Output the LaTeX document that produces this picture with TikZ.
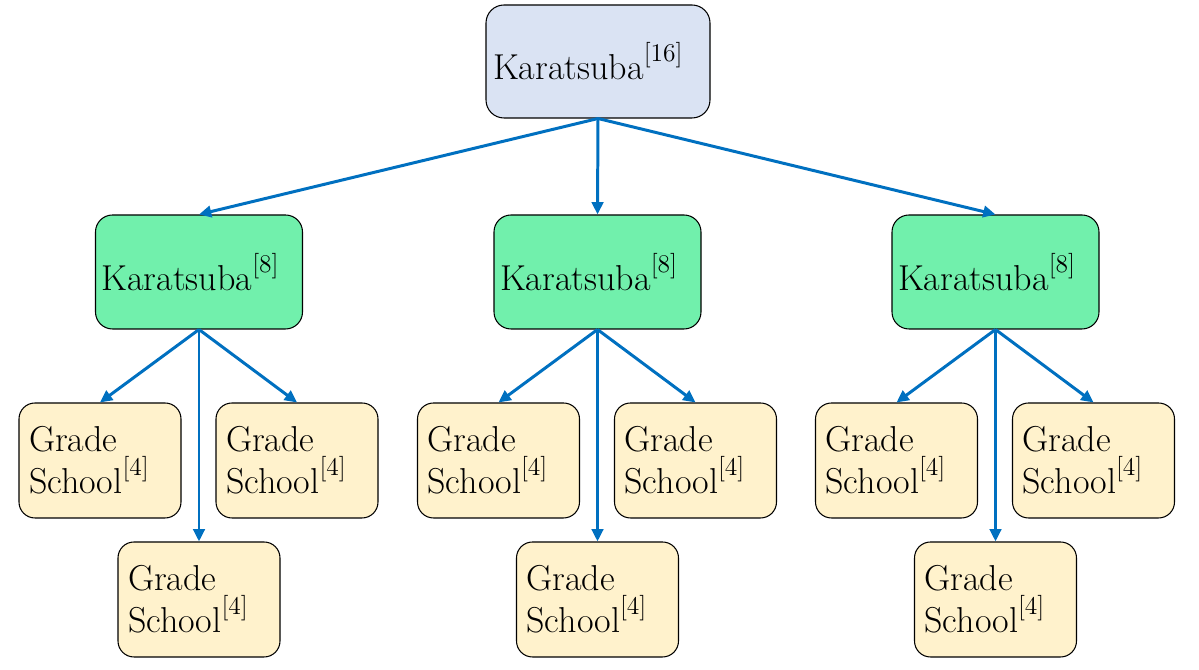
\documentclass[tikz,border=0pt]{standalone}
\usepackage{fontspec}
\usepackage{tikz}
\usetikzlibrary{arrows.meta, positioning}
\definecolor{ktop}{HTML}{DAE3F3}
\definecolor{kgreen}{HTML}{71F0AC}
\definecolor{kyellow}{HTML}{FFF2CC}
\definecolor{karrow}{HTML}{0070C0}
\tikzset{
  topbox/.style={draw=black, line width=0.6pt, fill=ktop, rounded corners=0.36cm,
    inner xsep=0.14cm, text width=4.2cm, align=left, minimum height=2.26cm,
    font=\fontsize{20.5}{24}\selectfont},
  karabox/.style={draw=black, line width=0.6pt, fill=kgreen, rounded corners=0.34cm,
    inner xsep=0.12cm, text width=3.9cm, align=left, minimum height=2.28cm,
    font=\fontsize{20.5}{24}\selectfont},
  gradebox/.style={draw=black, line width=0.6pt, fill=kyellow, rounded corners=0.32cm,
    inner xsep=0.2cm, text width=2.84cm, align=left, minimum height=2.3cm,
    font=\fontsize{20.5}{24}\selectfont},
  conn/.style={draw=karrow, line width=1.7pt, -{Triangle[length=7pt,width=6.5pt]}}
}
\newcommand{\kexp}[1]{\raisebox{0.5em}{\fontsize{14.5}{14.5}\selectfont[#1]}}
\newcommand{\gradeschool}{Grade\\School\kexp{4}}

\begin{document}
\begin{tikzpicture}[x=1cm, y=1cm]
  \useasboundingbox (0,0) rectangle (23.98,13.4);

  %% root
  \node[topbox] (top) at (11.96,12.17) {Karatsuba\kexp{16}};

  %% second level
  \node[karabox] (k1) at (3.98,7.96)  {Karatsuba\kexp{8}};
  \node[karabox] (k2) at (11.95,7.96) {Karatsuba\kexp{8}};
  \node[karabox] (k3) at (19.91,7.96) {Karatsuba\kexp{8}};

  \foreach \k in {k1,k2,k3}
    \draw[conn] (top.south) -- (\k.north);

  %% leaves
  \foreach \k in {k1,k2,k3} {
    \node[gradebox] (\k a) at ([xshift=-1.98cm, yshift=-3.77cm]\k.center) {\gradeschool};
    \node[gradebox] (\k b) at ([xshift=1.96cm, yshift=-3.77cm]\k.center) {\gradeschool};
    \node[gradebox] (\k c) at ([yshift=-6.55cm]\k.center) {\gradeschool};
    \draw[conn] (\k.south) -- (\k a.north);
    \draw[conn] (\k.south) -- (\k b.north);
    \draw[conn] (\k.south) -- (\k c.north);
  }

\end{tikzpicture}
\end{document}
